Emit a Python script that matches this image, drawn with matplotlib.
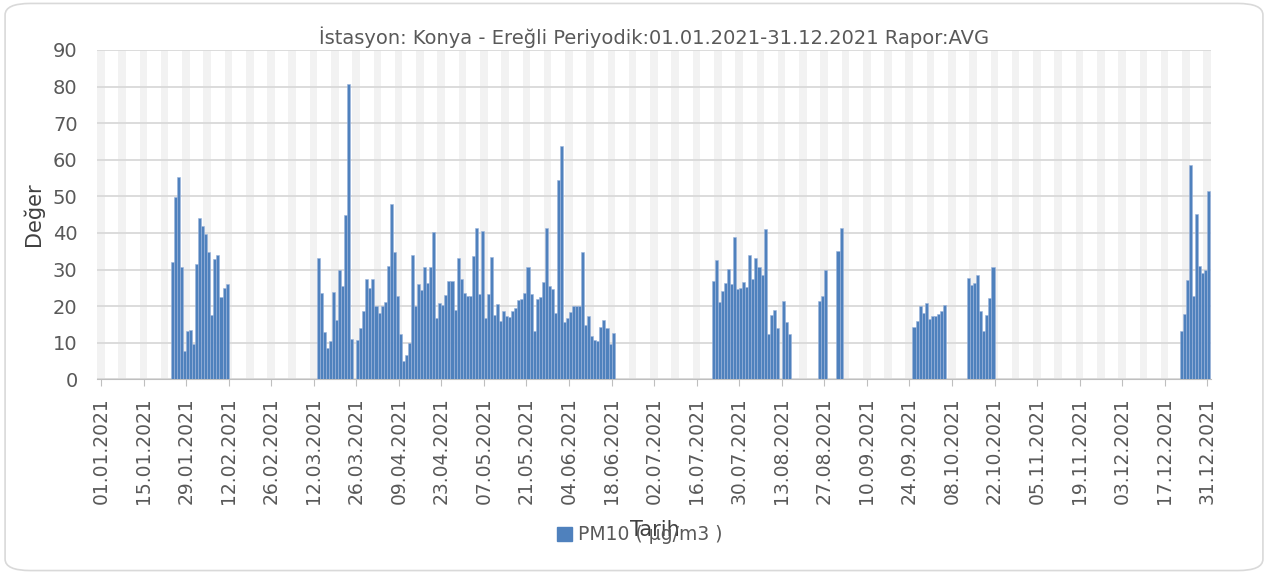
import numpy as np
import matplotlib
matplotlib.use("Agg")
import matplotlib.pyplot as plt
from matplotlib.patches import Patch, FancyBboxPatch

plt.rcParams['font.family'] = ['DejaVu Sans']

# PM10 daily averages (µg/m3), one list per run of measured days
jan_start = "2021-01-24"
pm10_jan = [32.0, 49.7, 55.2, 30.8, 7.7, 13.1, 13.6, 9.6, 31.4, 44.0,
            41.9, 39.7, 34.8, 17.6, 33.0, 33.9, 22.6, 25.0, 26.0]

mar_start = "2021-03-13"
pm10_mar = [33.2, 23.6, 12.8, 8.5, 10.6, 23.9, 16.3, 30.0, 25.4, 45.0,
            80.8, 10.9]

spring_start = "2021-03-26"
pm10_spring = [10.7, 14.0, 18.6, 27.5, 25.0, 27.5, 19.9, 18.0, 19.9, 21.1,
               31.1, 47.8, 34.7, 22.9, 12.5, 5.1, 6.6, 9.9, 33.9,
               19.9, 26.0, 24.3, 30.8, 26.4, 30.6, 40.2, 16.8, 20.9, 20.2,
               23.1, 27.0, 27.0, 18.9, 33.1, 27.5, 23.6, 22.7, 22.7, 33.7,
               41.3, 23.2, 40.4, 16.7, 23.3, 33.5, 17.6, 20.6, 15.9, 18.6,
               17.3,
               17.0, 18.8, 19.5, 21.7, 22.0, 23.5, 30.6, 23.2, 13.3, 22.0,
               22.5, 26.5, 41.3, 25.5, 24.8, 18.0, 54.6, 63.8, 15.7, 16.8,
               18.4, 19.9, 19.9, 19.9, 34.7, 14.8, 17.2, 11.7, 10.7, 10.6,
               14.3, 16.1, 14.0, 9.7, 12.6]

jul_start = "2021-07-21"
pm10_jul = [26.8, 32.5, 21.1, 24.2, 26.2, 30.1, 26.0, 39.0, 24.7, 25.0,
            26.5, 25.1, 34.0, 27.5, 33.1, 30.8, 28.5, 41.0, 12.4, 17.7,
            18.9, 14.0]

aug_start = "2021-08-13"
pm10_aug = [21.5, 15.6, 12.3]

aug_end_start = "2021-08-25"
pm10_aug_end = [21.4, 22.8, 30.0]

sep_start = "2021-08-31"
pm10_sep = [35.0, 41.3]

sep_oct_start = "2021-09-25"
pm10_sep_oct = [14.2, 15.8, 19.9, 18.0, 20.9, 16.6, 17.2, 17.2, 17.9, 18.6,
                20.4]

oct_start = "2021-10-13"
pm10_oct = [27.8, 25.9, 26.2, 28.4, 18.8, 13.3, 17.6, 22.3, 30.8]

dec_start = "2021-12-22"
pm10_dec = [13.3, 17.9, 27.1, 58.6, 22.8, 45.2, 31.1, 29.1, 30.0, 51.5]

runs = [(jan_start, pm10_jan), (mar_start, pm10_mar),
        (spring_start, pm10_spring), (jul_start, pm10_jul),
        (aug_start, pm10_aug), (aug_end_start, pm10_aug_end),
        (sep_start, pm10_sep), (sep_oct_start, pm10_sep_oct),
        (oct_start, pm10_oct), (dec_start, pm10_dec)]

year0 = np.datetime64("2021-01-01")
days, values = [], []
for start, vals in runs:
    d0 = (np.datetime64(start) - year0).astype(int)
    days.extend(d0 + np.arange(len(vals)))
    values.extend(vals)
days = np.array(days)
values = np.array(values)

tick_days = np.arange(0, 365, 14)
tick_labels = [str(year0 + np.timedelta64(int(d), 'D')) for d in tick_days]
tick_labels = [s[8:10] + "." + s[5:7] + "." + s[0:4] for s in tick_labels]

fig = plt.figure(figsize=(12.68, 5.74), dpi=100)
ax = fig.add_axes([0.0765, 0.3392, 0.8785, 0.5737])

# weekly light grey bands in the background
for k in range(53):
    ax.axvspan(7 * k - 1.3, 7 * k + 1.2, color='#f2f2f2', lw=0, zorder=0)

ax.bar(days, values, width=1.0, align='edge', color='#4f81bd',
       edgecolor='#9db5dc', linewidth=0.4, zorder=3, label='PM10 ( µg/m3 )')

ax.set_xlim(-1.3, 365.2)
ax.set_ylim(0, 90)
ax.set_yticks(np.arange(0, 91, 10))
ax.yaxis.grid(True, color='#d9d9d9', lw=1.3, zorder=1)
ax.set_axisbelow(True)
ax.set_xticks(tick_days)
ax.set_xticklabels(tick_labels, rotation=90, fontsize=13.5, color='#595959')
ax.tick_params(axis='x', length=5, color='#bfbfbf', pad=8)
ax.tick_params(axis='y', length=0, labelsize=14, labelcolor='#595959', pad=14)
for s in ['top', 'right', 'left']:
    ax.spines[s].set_visible(False)
ax.spines['bottom'].set_color('#bfbfbf')

ax.set_ylabel('Değer', fontsize=15, color='#404040', labelpad=6)
ax.set_title('İstasyon: Konya - Ereğli Periyodik:01.01.2021-31.12.2021 Rapor:AVG',
             fontsize=14, color='#595959', pad=4)

fig.text(655 / 1268, 1 - 530 / 574, 'Tarih', fontsize=15, color='#404040',
         ha='center', va='center')
fig.legend(handles=[Patch(color='#4f81bd', label='PM10 ( µg/m3 )')],
           loc='center', bbox_to_anchor=(640 / 1268, 1 - 535 / 574),
           frameon=False, fontsize=13.5, handlelength=0.8, handleheight=0.8,
           handletextpad=0.3, labelcolor='#595959')

fig.patches.append(FancyBboxPatch((0.004, 0.006), 0.992, 0.988,
                                  boxstyle="round,pad=0,rounding_size=0.02",
                                  transform=fig.transFigure, fill=False,
                                  edgecolor='#d9d9d9', lw=1.2))

fig.savefig('out.png', dpi=100)
